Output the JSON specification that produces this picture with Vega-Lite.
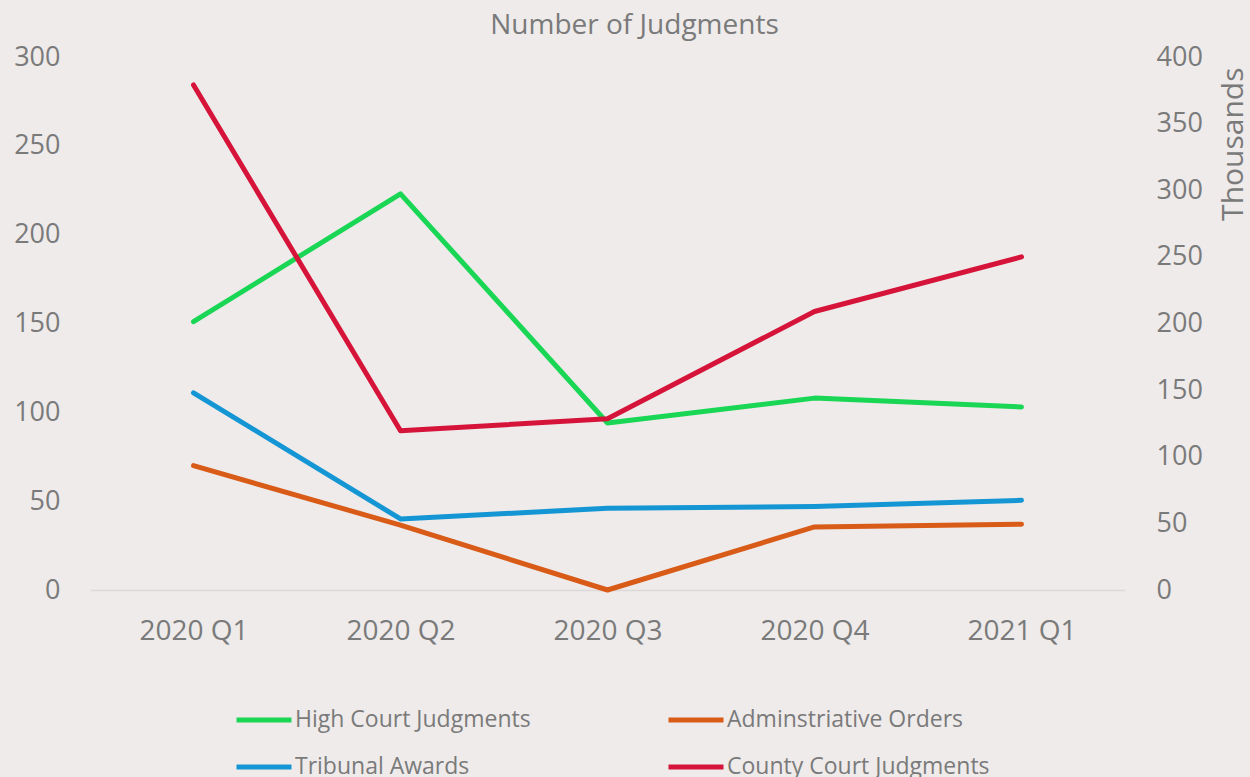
{
  "$schema": "https://vega.github.io/schema/vega-lite/v6.json",
  "width": 1035,
  "height": 533,
  "autosize": {"type": "none"},
  "padding": {"left": 90, "top": 57, "right": 125, "bottom": 187},
  "background": "#EEEBEA",
  "config": {"view": {"stroke": null}, "font": "Open Sans"},
  "title": {"text": "Number of Judgments", "fontSize": 28, "font": "Open Sans", "fontWeight": "normal", "color": "#7a7a7a", "anchor": "middle", "dx": 27, "offset": -19, "baseline": "alphabetic"},
  "data": {"values": [
    {"quarter": "2020 Q1", "series": "High Court Judgments", "value": 151},
    {"quarter": "2020 Q2", "series": "High Court Judgments", "value": 223},
    {"quarter": "2020 Q3", "series": "High Court Judgments", "value": 94},
    {"quarter": "2020 Q4", "series": "High Court Judgments", "value": 108},
    {"quarter": "2021 Q1", "series": "High Court Judgments", "value": 103},
    {"quarter": "2020 Q1", "series": "Adminstriative Orders", "value": 70},
    {"quarter": "2020 Q2", "series": "Adminstriative Orders", "value": 36.5},
    {"quarter": "2020 Q3", "series": "Adminstriative Orders", "value": 0},
    {"quarter": "2020 Q4", "series": "Adminstriative Orders", "value": 35.5},
    {"quarter": "2021 Q1", "series": "Adminstriative Orders", "value": 37},
    {"quarter": "2020 Q1", "series": "Tribunal Awards", "value": 111},
    {"quarter": "2020 Q2", "series": "Tribunal Awards", "value": 40},
    {"quarter": "2020 Q3", "series": "Tribunal Awards", "value": 46},
    {"quarter": "2020 Q4", "series": "Tribunal Awards", "value": 47},
    {"quarter": "2021 Q1", "series": "Tribunal Awards", "value": 50.5},
    {"quarter": "2020 Q1", "series": "County Court Judgments", "value": 379},
    {"quarter": "2020 Q2", "series": "County Court Judgments", "value": 119.5},
    {"quarter": "2020 Q3", "series": "County Court Judgments", "value": 128.5},
    {"quarter": "2020 Q4", "series": "County Court Judgments", "value": 209},
    {"quarter": "2021 Q1", "series": "County Court Judgments", "value": 250}
  ]},
  "encoding": {
    "x": {
      "field": "quarter", "type": "ordinal",
      "sort": ["2020 Q1", "2020 Q2", "2020 Q3", "2020 Q4", "2021 Q1"],
      "scale": {"type": "point", "padding": 0.5},
      "axis": {"title": null, "labelAngle": 0, "ticks": false, "domain": true, "domainColor": "#DCD9D8", "domainWidth": 1.5, "labelFont": "Open Sans", "labelFontSize": 28, "labelColor": "#7a7a7a", "labelPadding": 27, "labelBaseline": "top"}
    },
    "color": {
      "field": "series", "type": "nominal",
      "scale": {
        "domain": ["High Court Judgments", "Adminstriative Orders", "Tribunal Awards", "County Court Judgments"],
        "range": ["#19D654", "#D95B18", "#1596D4", "#D6143A"]
      },
      "legend": {
        "title": null, "orient": "none", "direction": "horizontal", "columns": 2,
        "legendX": 144, "legendY": 633, "padding": 0,
        "symbolType": "stroke", "symbolSize": 3025, "symbolStrokeWidth": 5,
        "labelFont": "Open Sans", "labelFontSize": 23, "labelColor": "#7a7a7a",
        "labelOffset": 1, "columnPadding": 127, "rowPadding": 5, "labelLimit": 400
      }
    }
  },
  "layer": [
    {
      "transform": [{"filter": "datum.series != 'County Court Judgments'"}],
      "mark": {"type": "line", "strokeWidth": 5, "strokeCap": "round", "strokeJoin": "round"},
      "encoding": {
        "y": {
          "field": "value", "type": "quantitative",
          "scale": {"domain": [0, 300], "nice": false},
          "axis": {"title": null, "domain": false, "ticks": false, "grid": false, "values": [0, 50, 100, 150, 200, 250, 300], "labelPadding": 30, "labelFont": "Open Sans", "labelFontSize": 27, "labelColor": "#7a7a7a"}
        }
      }
    },
    {
      "transform": [{"filter": "datum.series == 'County Court Judgments'"}],
      "mark": {"type": "line", "strokeWidth": 5, "strokeCap": "round", "strokeJoin": "round"},
      "encoding": {
        "y": {
          "field": "value", "type": "quantitative",
          "scale": {"domain": [0, 400], "nice": false},
          "axis": {"orient": "right", "title": "Thousands", "domain": false, "ticks": false, "grid": false, "values": [0, 50, 100, 150, 200, 250, 300, 350, 400], "labelPadding": 31, "labelFont": "Open Sans", "labelFontSize": 27, "labelColor": "#7a7a7a", "titleFont": "Open Sans", "titleFontSize": 30, "titleFontWeight": "normal", "titleColor": "#7a7a7a", "titleAngle": 270, "titleX": 108, "titleY": 10, "titleAlign": "right", "titleBaseline": "middle"}
        }
      }
    }
  ],
  "resolve": {"scale": {"y": "independent"}}
}
